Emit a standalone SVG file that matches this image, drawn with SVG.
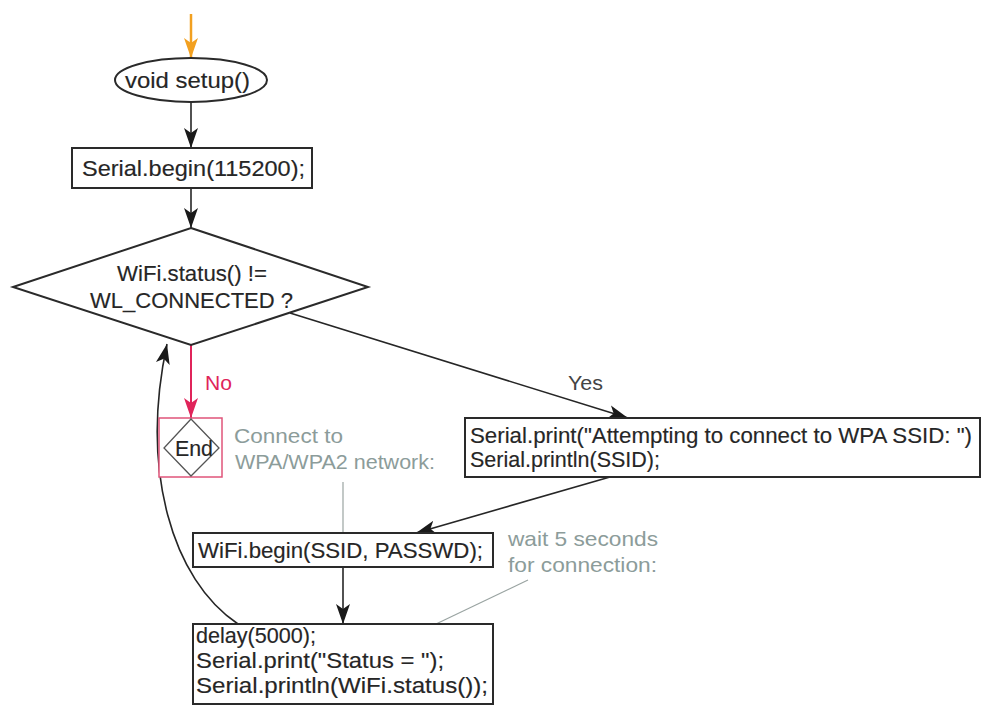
<svg xmlns="http://www.w3.org/2000/svg" width="982" height="707" viewBox="0 0 982 707">
  <style>
    .box { fill: #ffffff; stroke: #2a2a2a; stroke-width: 2; }
    .txt { font-family: "Liberation Sans", Arial, sans-serif; font-size: 22px; fill: #262626; stroke: #262626; stroke-width: 0.15; }
    .note { font-family: "Liberation Sans", Arial, sans-serif; font-size: 21px; fill: #8c9c9a; }
    .flow { fill: none; stroke: #262626; stroke-width: 1.6; }
    .noteline { fill: none; stroke: #9aa4a2; stroke-width: 1.2; }
  </style>
  <defs>
    <marker id="arrow" markerUnits="userSpaceOnUse" markerWidth="22" markerHeight="16" refX="20" refY="8" orient="auto">
      <path d="M0,1 L20,8 L0,15 L5,8 Z" fill="#1a1a1a"/>
    </marker>
    <marker id="arrowRed" markerUnits="userSpaceOnUse" markerWidth="22" markerHeight="16" refX="20" refY="8" orient="auto">
      <path d="M0,1 L20,8 L0,15 L5,8 Z" fill="#e0245a"/>
    </marker>
    <marker id="arrowOrange" markerUnits="userSpaceOnUse" markerWidth="22" markerHeight="16" refX="20" refY="8" orient="auto">
      <path d="M0,1 L20,8 L0,15 L5,8 Z" fill="#f2a020"/>
    </marker>
  </defs>

  <rect width="982" height="707" fill="#ffffff"/>

  <!-- connectors -->
  <g id="connectors">
    <line x1="191" y1="14" x2="191" y2="58" stroke="#f2a020" stroke-width="2.5" marker-end="url(#arrowOrange)"/>
    <line class="flow" x1="191" y1="102" x2="191" y2="148" marker-end="url(#arrow)"/>
    <line class="flow" x1="191" y1="188" x2="191" y2="228" marker-end="url(#arrow)"/>
    <line x1="191" y1="345" x2="191" y2="418" stroke="#e0245a" stroke-width="2" marker-end="url(#arrowRed)"/>
    <text x="205" y="390" font-family="Liberation Sans, Arial, sans-serif" font-size="21" fill="#e0245a" textLength="27" lengthAdjust="spacingAndGlyphs">No</text>
    <line class="flow" x1="290" y1="313" x2="628" y2="418" marker-end="url(#arrow)"/>
    <text x="568" y="390" font-family="Liberation Sans, Arial, sans-serif" font-size="21" fill="#444" textLength="35" lengthAdjust="spacingAndGlyphs">Yes</text>
    <line class="flow" x1="610" y1="477" x2="416" y2="533" marker-end="url(#arrow)"/>
    <line class="flow" x1="343" y1="567" x2="343" y2="624" marker-end="url(#arrow)"/>
    <path class="flow" d="M238,624 C172,580 140,470 167,344" marker-end="url(#arrow)"/>
    <line class="noteline" x1="343" y1="482" x2="343" y2="533"/>
    <line class="noteline" x1="528" y1="580" x2="436" y2="624"/>
  </g>

  <g id="start">
    <ellipse class="box" cx="191" cy="80" rx="76" ry="22"/>
    <text class="txt" x="125" y="88" textLength="125" lengthAdjust="spacingAndGlyphs">void setup()</text>
  </g>

  <g id="serial-begin">
    <rect class="box" x="72" y="148" width="240" height="40"/>
    <text class="txt" x="82" y="176" textLength="223" lengthAdjust="spacingAndGlyphs">Serial.begin(115200);</text>
  </g>

  <g id="check-status">
    <polygon class="box" points="191,228 368,287 191,345 13,287"/>
    <text class="txt" x="117" y="281" textLength="150" lengthAdjust="spacingAndGlyphs">WiFi.status() !=</text>
    <text class="txt" x="90" y="308" textLength="203" lengthAdjust="spacingAndGlyphs">WL_CONNECTED ?</text>
  </g>

  <g id="end">
    <rect x="159" y="418" width="63" height="59" fill="#ffffff" stroke="#e0547a" stroke-width="1.5"/>
    <polygon points="191,419 219,448 191,476 164,448" fill="none" stroke="#555" stroke-width="1.3"/>
    <text class="txt" x="175" y="456" textLength="38" lengthAdjust="spacingAndGlyphs">End</text>
  </g>

  <g id="note-connect">
    <text class="note" x="234" y="443" textLength="109" lengthAdjust="spacingAndGlyphs">Connect to</text>
    <text class="note" x="235" y="469" textLength="200" lengthAdjust="spacingAndGlyphs">WPA/WPA2 network:</text>
  </g>

  <g id="attempt-print">
    <rect class="box" x="465" y="418" width="515" height="59"/>
    <text class="txt" x="470" y="443" textLength="502" lengthAdjust="spacingAndGlyphs">Serial.print("Attempting to connect to WPA SSID: ")</text>
    <text class="txt" x="470" y="467" textLength="190" lengthAdjust="spacingAndGlyphs">Serial.println(SSID);</text>
  </g>

  <g id="wifi-begin">
    <rect class="box" x="193" y="533" width="300" height="34"/>
    <text class="txt" x="198" y="558" textLength="285" lengthAdjust="spacingAndGlyphs">WiFi.begin(SSID, PASSWD);</text>
  </g>

  <g id="note-wait">
    <text class="note" x="508" y="546" textLength="150" lengthAdjust="spacingAndGlyphs">wait 5 seconds</text>
    <text class="note" x="508" y="572" textLength="149" lengthAdjust="spacingAndGlyphs">for connection:</text>
  </g>

  <g id="delay-status">
    <rect class="box" x="193" y="624" width="300" height="80"/>
    <text class="txt" x="196" y="643" textLength="120" lengthAdjust="spacingAndGlyphs">delay(5000);</text>
    <text class="txt" x="196" y="668" textLength="248" lengthAdjust="spacingAndGlyphs">Serial.print("Status = ");</text>
    <text class="txt" x="196" y="693" textLength="292" lengthAdjust="spacingAndGlyphs">Serial.println(WiFi.status());</text>
  </g>
</svg>
